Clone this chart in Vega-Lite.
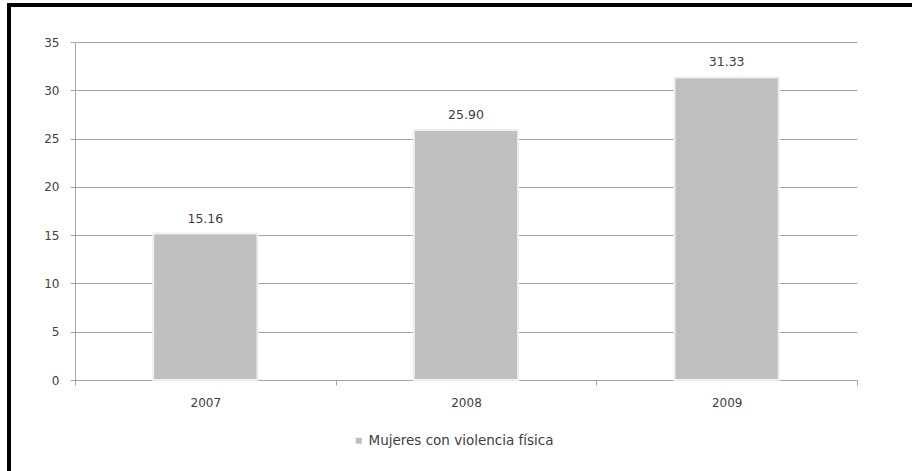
{
  "$schema": "https://vega.github.io/schema/vega-lite/v6.json",
  "padding": {"left": 7, "top": 3, "right": 0, "bottom": 0},
  "background": "white",
  "config": {
    "view": {"stroke": null},
    "font": "DejaVu Sans"
  },
  "bounds": "flush",
  "spacing": 0,
  "resolve": {"scale": {"color": "independent"}, "legend": {"color": "independent"}},
  "vconcat": [
    {
      "name": "frame_top",
      "width": 905,
      "height": 4,
      "view": {"fill": "black", "stroke": null},
      "data": {"values": []},
      "mark": {"type": "point", "opacity": 0}
    },
    {
      "bounds": "flush",
      "spacing": 64,
      "resolve": {"scale": {"color": "independent"}, "legend": {"color": "independent"}},
      "hconcat": [
        {
          "name": "frame_left",
          "width": 4,
          "height": 464,
          "view": {"fill": "black", "stroke": null},
          "data": {"values": []},
          "mark": {"type": "point", "opacity": 0}
        },
        {
          "bounds": "flush",
          "spacing": 34,
          "resolve": {"scale": {"color": "independent"}, "legend": {"color": "independent"}},
          "vconcat": [
            {
              "name": "gap",
              "width": 1,
              "height": 1,
              "data": {"values": []},
              "mark": {"type": "point", "opacity": 0}
            },
            {
              "name": "chart",
              "width": 782,
              "height": 338,
              "data": {
                "values": [
                  {"anio": "2007", "valor": 15.16, "serie": "Mujeres con violencia física"},
                  {"anio": "2008", "valor": 25.90, "serie": "Mujeres con violencia física"},
                  {"anio": "2009", "valor": 31.33, "serie": "Mujeres con violencia física"}
                ]
              },
              "encoding": {
                "x": {
                  "field": "anio",
                  "type": "nominal",
                  "scale": {"paddingInner": 0, "paddingOuter": 0},
                  "axis": {
                    "title": null,
                    "labelAngle": 0,
                    "labelFont": "DejaVu Sans",
                    "labelFontSize": 12,
                    "labelColor": "#404040",
                    "labelPadding": 12,
                    "tickBand": "extent",
                    "tickSize": 5,
                    "tickColor": "#a5a5a5",
                    "domainColor": "#a5a5a5",
                    "grid": false
                  }
                },
                "y": {
                  "field": "valor",
                  "type": "quantitative",
                  "scale": {"domain": [0, 35], "nice": false},
                  "axis": {
                    "title": null,
                    "values": [0, 5, 10, 15, 20, 25, 30, 35],
                    "labelFont": "DejaVu Sans",
                    "labelFontSize": 12,
                    "labelColor": "#404040",
                    "labelPadding": 11,
                    "tickSize": 5,
                    "tickColor": "#a5a5a5",
                    "domainColor": "#a5a5a5",
                    "grid": true,
                    "gridColor": "#a5a5a5"
                  }
                }
              },
              "layer": [
                {
                  "mark": {"type": "bar", "width": {"band": 0.4}, "stroke": "#eeeeee", "strokeWidth": 2},
                  "encoding": {
                    "color": {
                      "field": "serie",
                      "type": "nominal",
                      "scale": {"range": ["#bfbfbf"]},
                      "legend": {
                        "title": null,
                        "orient": "none",
                        "legendX": 277,
                        "legendY": 392,
                        "padding": 0,
                        "symbolType": "square",
                        "symbolSize": 36,
                        "symbolStrokeWidth": 0,
                        "labelFont": "DejaVu Sans",
                        "labelFontSize": 13.5,
                        "labelColor": "#404040",
                        "labelOffset": 3,
                        "labelLimit": 400
                      }
                    }
                  }
                },
                {
                  "mark": {
                    "type": "text",
                    "baseline": "alphabetic",
                    "dy": -11,
                    "font": "DejaVu Sans",
                    "fontSize": 12.5,
                    "color": "#404040"
                  },
                  "encoding": {
                    "text": {"field": "valor", "type": "quantitative", "format": ".2f"}
                  }
                }
              ]
            }
          ]
        }
      ]
    }
  ]
}
